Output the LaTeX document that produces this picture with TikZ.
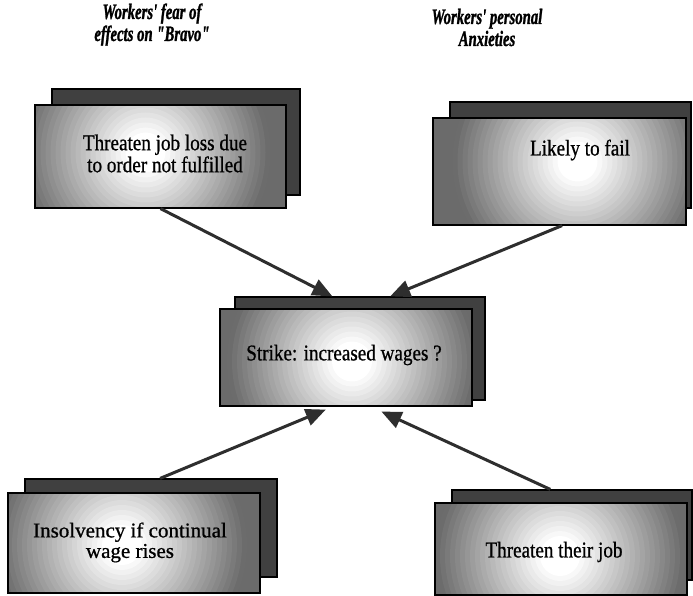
\documentclass[tikz,border=0pt]{standalone}
\usepackage{fontspec}
\setmainfont{Liberation Serif}[FakeStretch=0.85,FakeBold=0.8]
\newfontfamily\titlefont{Liberation Serif}[FakeStretch=0.67,FakeBold=1.2]
\newfontfamily\widefont{Liberation Serif}[FakeStretch=1.0,FakeBold=0.8]
\usetikzlibrary{arrows.meta,calc}
\tikzset{
  backbox/.style={draw=black, line width=1.2pt, fill=black!75, inner sep=0pt},
  frontbox/.style 2 args={draw=black, line width=1.2pt, fill=black!58, inner sep=0pt,
    path picture={
      \coordinate (gc) at ([shift={(#1,#2)}]path picture bounding box.center);
      \foreach \r [evaluate=\r as \p using {min(58,max(0,(\r-20)*0.55))}] in {140,135,...,5}
        \fill[black!\p] (gc) circle (\r pt);
    }},
  boxtext/.style={align=center, inner sep=0pt, font=\fontsize{22.5}{22}\selectfont},
  titletext/.style={align=center, inner sep=0pt, font=\titlefont\bfseries\itshape\fontsize{22}{22}\selectfont},
  connector/.style={draw=black!82, line width=3pt, -{Triangle[length=20pt,width=17pt]}}
}
\begin{document}
\begin{tikzpicture}[x=1pt,y=-1pt]
\useasboundingbox[fill=white] (0,0) rectangle (693,596);

% titles (anchor=base = baseline of the last line)
\node[titletext, anchor=base] (h1) at (152,41) {Workers' fear of\\effects on "Bravo"};
\node[titletext, anchor=base] (h2) at (487,46) {Workers' personal\\Anxieties};

% box 1
\node[backbox, minimum width=248pt, minimum height=106pt] (b1back) at (176,142) {};
\node[frontbox={-15}{-4}, minimum width=251pt, minimum height=103pt] (b1) at (160.5,156.5) {};
\node[boxtext] (b1txt) at (165,153.5) {Threaten job loss due\\to order not fulfilled};

% box 2
\node[backbox, minimum width=241pt, minimum height=106pt] (b2back) at (570.5,155) {};
\node[frontbox={18}{-10}, minimum width=253pt, minimum height=107pt] (b2) at (559.5,171.5) {};
\node[boxtext] (b2txt) at (580,150) {Likely to fail};

% box 3 (centre)
\node[backbox, minimum width=250pt, minimum height=103pt] (b3back) at (360,348.5) {};
\node[frontbox={6}{4}, minimum width=252pt, minimum height=97pt] (b3) at (346,357.5) {};
\node[boxtext] (b3txt) at (344,355) {Strike: increased wages ?};

% box 4
\node[backbox, minimum width=252pt, minimum height=98pt] (b4back) at (151,528) {};
\node[frontbox={-12}{2}, minimum width=252pt, minimum height=100pt] (b4) at (134,543) {};
\node[boxtext, font=\widefont\fontsize{21}{20.5}\selectfont] (b4txt) at (130,542.5) {Insolvency if continual\\wage rises};

% box 5
\node[backbox, minimum width=240pt, minimum height=90pt] (b5back) at (572,535) {};
\node[frontbox={-1}{7}, minimum width=252pt, minimum height=92pt] (b5) at (561,549) {};
\node[boxtext] (b5txt) at (554,552) {Threaten their job};

% connectors
\draw[connector] (b1.south) -- ($(b3back.north west)!0.39!(b3back.north east)$);
\draw[connector] ($(b2.south west)!0.51!(b2.south east)$) -- ($(b3back.north west)!0.62!(b3back.north east)$);
\draw[connector] ($(b4back.north west)!0.536!(b4back.north east)$) -- ($(b3.south west)!0.42!(b3.south east)+(0,3)$);
\draw[connector] ($(b5back.north west)!0.41!(b5back.north east)$) -- ($(b3.south west)!0.64!(b3.south east)+(0,5)$);
\end{tikzpicture}
\end{document}
